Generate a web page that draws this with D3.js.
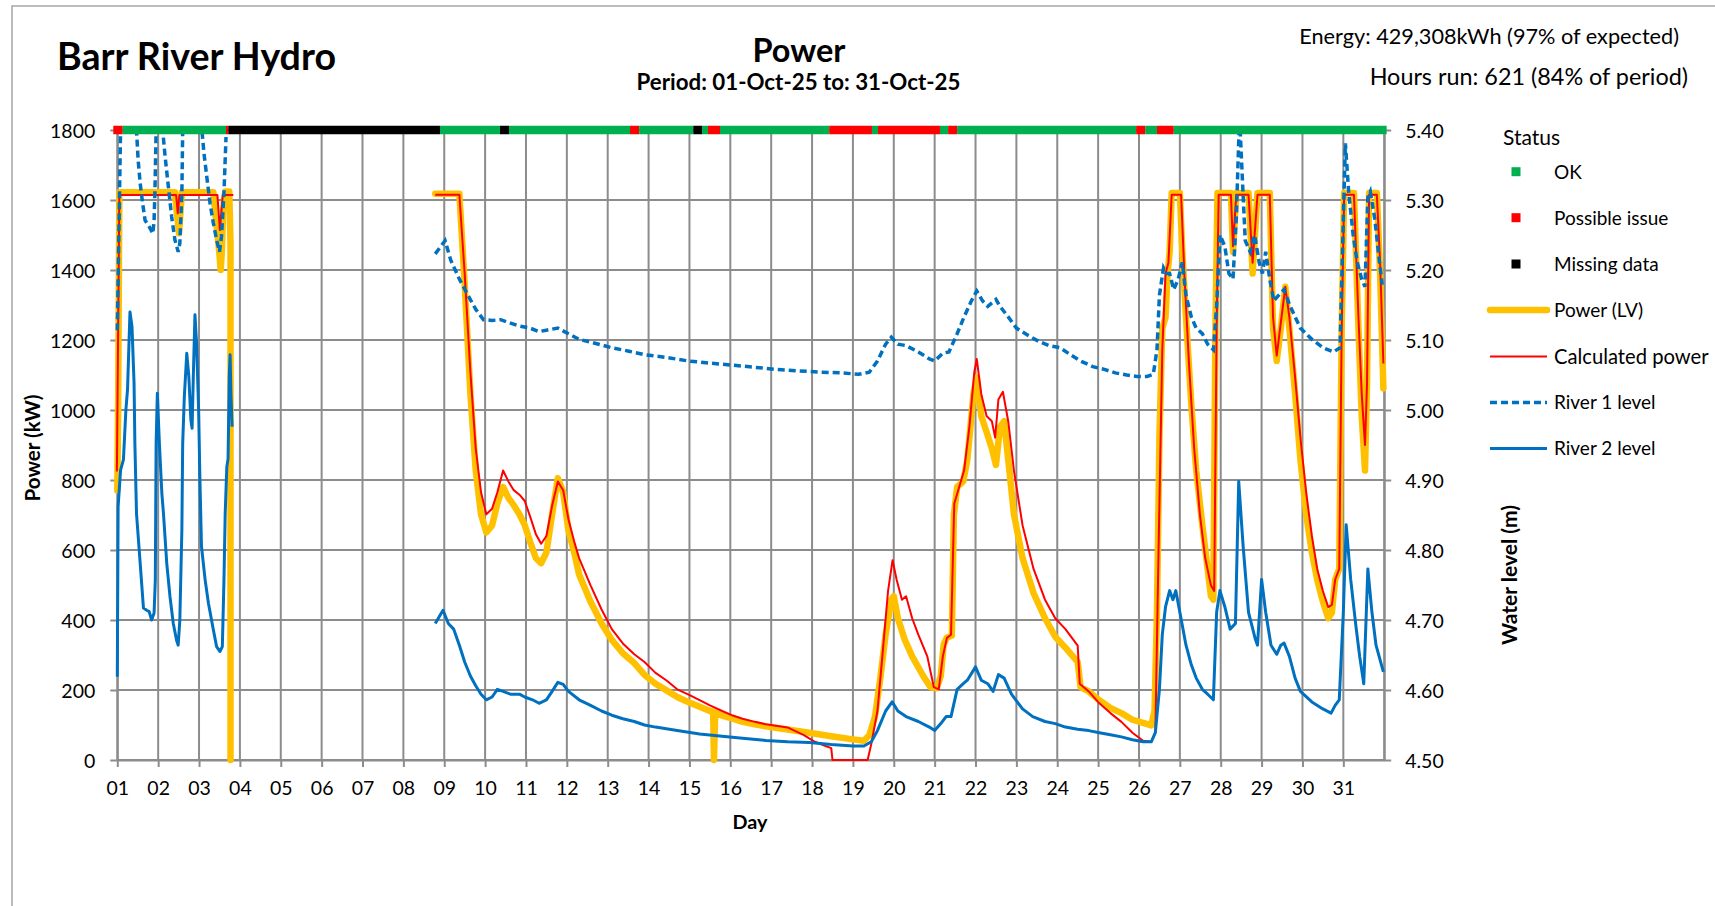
<!DOCTYPE html>
<html><head><meta charset="utf-8">
<script src="https://cdn.jsdelivr.net/npm/d3@7/dist/d3.min.js"></script>
<style>html,body{margin:0;padding:0;background:#fff;overflow:hidden}svg{display:block}</style>
</head><body>
<script>
// ---------------- DATA ----------------
const dayLabels = ["01","02","03","04","05","06","07","08","09","10","11","12","13","14","15","16","17","18","19","20","21","22","23","24","25","26","27","28","29","30","31"];
const powerTicks = [0,200,400,600,800,1000,1200,1400,1600,1800];
const levelTicks = [4.5,4.6,4.7,4.8,4.9,5.0,5.1,5.2,5.3,5.4];

// [day, kW]
const powerLV = [[1.00,770],[1.02,1000],[1.05,1622],[2.41,1622],[2.45,1571],[2.51,1505],[2.55,1571],[2.58,1622],[3.35,1622],[3.43,1524],[3.49,1457],[3.53,1400],[3.56,1457],[3.59,1571],[3.64,1624],[3.74,1624],[3.77,1477],[3.77,0],[5,null],
[8.78,1618],[9.37,1618],[9.5,1360],[9.64,1046],[9.77,827],[9.9,702],[10.03,650],[10.17,670],[10.3,733],[10.44,780],[10.57,749],[10.7,728],[10.84,702],[10.97,671],[11.1,624],[11.24,577],[11.37,562],[11.5,593],[11.64,702],[11.78,805],[11.91,765],[12.04,655],[12.18,593],[12.3,530],[12.58,452],[12.85,390],[13.1,343],[13.37,305],[13.65,277],[13.9,243],[14.17,218],[14.44,199],[14.7,180],[14.98,165],[15.25,152],[15.5,140],[15.58,138],[15.6,0],[15.63,135],[15.8,127],[16.06,118],[16.3,109],[16.6,102],[16.87,96],[17.4,87],[17.93,78],[18.47,68],[19.0,59],[19.27,55],[19.4,71],[19.54,124],[19.67,233],[19.8,358],[19.94,458],[20.0,468],[20.1,405],[20.27,343],[20.45,296],[20.72,240],[20.9,208],[21.05,205],[21.15,240],[21.22,330],[21.3,350],[21.42,355],[21.47,700],[21.55,780],[21.7,796],[21.8,858],[21.95,1046],[22.03,1093],[22.14,983],[22.27,937],[22.4,890],[22.5,843],[22.6,952],[22.7,968],[22.8,858],[22.94,702],[23.15,577],[23.42,477],[23.7,405],[23.95,352],[24.2,321],[24.5,280],[24.57,208],[24.77,196],[25.03,171],[25.3,149],[25.57,134],[25.84,115],[26.1,106],[26.3,99],[26.38,140],[26.44,421],[26.5,921],[26.57,1233],[26.65,1265],[26.7,1390],[26.75,1452],[26.8,1620],[27.0,1620],[27.06,1452],[27.15,1265],[27.28,1015],[27.4,827],[27.55,671],[27.68,546],[27.76,468],[27.82,458],[27.87,1233],[27.92,1620],[28.25,1620],[28.3,1452],[28.38,1620],[28.68,1620],[28.78,1390],[28.9,1620],[29.2,1620],[29.28,1233],[29.37,1140],[29.47,1233],[29.58,1352],[29.68,1233],[29.82,1046],[29.95,858],[30.09,702],[30.23,593],[30.36,515],[30.5,452],[30.63,405],[30.72,421],[30.8,515],[30.9,546],[30.96,1233],[31.02,1620],[31.26,1620],[31.37,1233],[31.45,983],[31.53,827],[31.58,1077],[31.63,1620],[31.82,1620],[31.9,1390],[31.98,1062]];

const calcPower = [[0.99,824],[1.05,1614],[2.44,1614],[2.48,1562],[2.52,1614],[3.45,1614],[3.51,1514],[3.58,1614],[3.84,1614],[5,null],
[8.78,1615],[9.37,1615],[9.5,1390],[9.64,1108],[9.77,890],[9.9,765],[10.03,702],[10.17,718],[10.3,765],[10.44,827],[10.57,796],[10.7,771],[10.84,758],[10.97,740],[11.1,696],[11.24,646],[11.37,618],[11.5,640],[11.64,727],[11.78,796],[11.91,771],[12.04,687],[12.18,624],[12.3,577],[12.58,499],[12.85,430],[13.1,374],[13.37,333],[13.65,302],[13.9,280],[14.17,249],[14.44,227],[14.7,202],[14.98,187],[15.25,171],[15.5,156],[15.8,140],[16.06,127],[16.3,118],[16.6,109],[16.87,102],[17.4,93],[17.8,71],[18.07,52],[18.33,40],[18.47,34],[18.5,0],[19.36,0],[19.45,46],[19.6,140],[19.72,296],[19.86,483],[19.97,571],[20.07,515],[20.2,458],[20.3,468],[20.45,405],[20.6,358],[20.82,296],[20.98,208],[21.1,202],[21.2,296],[21.3,349],[21.4,358],[21.48,733],[21.6,780],[21.72,827],[21.85,952],[21.97,1108],[22.03,1146],[22.14,1046],[22.27,983],[22.4,968],[22.48,921],[22.56,1030],[22.67,1052],[22.8,968],[22.94,827],[23.15,671],[23.42,546],[23.7,458],[23.95,405],[24.2,374],[24.5,327],[24.55,218],[24.77,196],[25.03,162],[25.3,134],[25.57,109],[25.84,78],[26.1,55],[26.3,52],[26.4,78],[26.48,608],[26.57,1171],[26.65,1390],[26.72,1421],[26.8,1615],[27.03,1615],[27.11,1390],[27.22,1140],[27.35,890],[27.49,702],[27.62,577],[27.76,499],[27.84,483],[27.9,1233],[27.95,1615],[28.25,1615],[28.3,1468],[28.38,1615],[28.68,1615],[28.78,1421],[28.9,1615],[29.2,1615],[29.28,1265],[29.37,1155],[29.47,1249],[29.58,1352],[29.68,1265],[29.82,1093],[29.95,921],[30.09,765],[30.23,640],[30.36,546],[30.5,483],[30.63,437],[30.72,443],[30.8,515],[30.9,546],[30.96,1233],[31.02,1615],[31.26,1615],[31.37,1265],[31.45,1046],[31.53,900],[31.58,1077],[31.63,1615],[31.82,1615],[31.9,1421],[31.98,1133]];

// [day, m]
const river1Level = [[1.00,5.114],[1.08,5.40],[1.12,5.5],[1.44,5.5],[1.47,5.40],[1.51,5.357],[1.56,5.324],[1.62,5.295],[1.68,5.271],[1.78,5.262],[1.87,5.252],[1.90,5.271],[1.92,5.31],[1.95,5.40],[1.98,5.5],[2.08,5.5],[2.11,5.40],[2.17,5.362],[2.25,5.319],[2.33,5.276],[2.41,5.243],[2.49,5.226],[2.53,5.238],[2.58,5.31],[2.6,5.40],[2.63,5.5],[3.04,5.5],[3.07,5.40],[3.12,5.367],[3.19,5.333],[3.27,5.295],[3.35,5.267],[3.43,5.243],[3.50,5.226],[3.55,5.248],[3.61,5.31],[3.66,5.39],[5,null],
[8.78,5.223],[8.92,5.234],[9.02,5.242],[9.16,5.214],[9.37,5.187],[9.58,5.164],[9.77,5.144],[9.96,5.129],[10.17,5.128],[10.38,5.129],[10.57,5.125],[10.84,5.12],[11.1,5.117],[11.32,5.112],[11.5,5.114],[11.78,5.117],[12.04,5.109],[12.3,5.101],[12.71,5.095],[13.1,5.089],[13.52,5.084],[13.9,5.079],[14.44,5.075],[14.98,5.07],[15.5,5.067],[16.06,5.064],[16.6,5.061],[17.13,5.058],[17.66,5.056],[18.2,5.054],[18.73,5.053],[19.14,5.051],[19.4,5.054],[19.6,5.07],[19.8,5.094],[19.94,5.104],[20.1,5.094],[20.3,5.092],[20.6,5.083],[20.87,5.073],[21.0,5.07],[21.2,5.081],[21.35,5.083],[21.55,5.109],[21.72,5.133],[21.9,5.156],[22.03,5.17],[22.17,5.156],[22.3,5.148],[22.5,5.158],[22.6,5.148],[22.8,5.133],[23.0,5.117],[23.3,5.106],[23.55,5.098],[23.8,5.092],[24.07,5.089],[24.35,5.078],[24.57,5.07],[24.87,5.062],[25.15,5.058],[25.42,5.053],[25.7,5.05],[25.95,5.048],[26.2,5.048],[26.35,5.051],[26.44,5.086],[26.5,5.164],[26.6,5.203],[26.67,5.195],[26.75,5.195],[26.85,5.172],[26.96,5.187],[27.06,5.211],[27.15,5.164],[27.28,5.133],[27.4,5.117],[27.55,5.109],[27.68,5.094],[27.82,5.086],[27.9,5.148],[27.98,5.25],[28.1,5.234],[28.2,5.195],[28.3,5.187],[28.38,5.273],[28.46,5.42],[28.55,5.304],[28.6,5.242],[28.72,5.226],[28.83,5.25],[28.94,5.211],[29.02,5.195],[29.1,5.226],[29.2,5.187],[29.3,5.156],[29.42,5.164],[29.55,5.172],[29.68,5.151],[29.82,5.133],[29.95,5.117],[30.23,5.101],[30.5,5.089],[30.76,5.083],[30.92,5.089],[31.0,5.273],[31.05,5.381],[31.13,5.312],[31.24,5.25],[31.34,5.211],[31.45,5.187],[31.53,5.176],[31.6,5.304],[31.66,5.312],[31.77,5.273],[31.87,5.219],[31.95,5.179]];

const river2Level = [[1.00,4.619],[1.02,4.862],[1.08,4.914],[1.15,4.929],[1.21,5.0],[1.25,5.029],[1.31,5.140],[1.36,5.119],[1.41,5.038],[1.43,4.952],[1.47,4.852],[1.56,4.781],[1.64,4.717],[1.72,4.714],[1.78,4.712],[1.84,4.70],[1.90,4.71],[1.93,4.757],[1.95,4.952],[1.98,5.024],[2.03,4.952],[2.09,4.881],[2.13,4.852],[2.21,4.781],[2.29,4.733],[2.37,4.695],[2.45,4.671],[2.49,4.664],[2.53,4.70],[2.58,4.829],[2.6,4.952],[2.64,5.019],[2.70,5.081],[2.75,5.048],[2.80,4.986],[2.83,4.974],[2.86,5.048],[2.90,5.136],[2.94,5.095],[2.99,5.0],[3.02,4.905],[3.06,4.805],[3.15,4.757],[3.23,4.724],[3.35,4.686],[3.43,4.662],[3.51,4.655],[3.57,4.662],[3.61,4.757],[3.64,4.852],[3.68,4.919],[3.71,4.93],[3.74,5.048],[3.76,5.079],[3.78,5.024],[3.81,4.976],[5,null],
[8.78,4.695],[8.97,4.714],[9.1,4.695],[9.23,4.687],[9.37,4.664],[9.5,4.64],[9.64,4.62],[9.77,4.606],[9.9,4.594],[10.03,4.586],[10.17,4.59],[10.3,4.601],[10.44,4.598],[10.62,4.594],[10.84,4.594],[10.97,4.59],[11.16,4.586],[11.32,4.581],[11.5,4.586],[11.64,4.598],[11.78,4.611],[11.91,4.608],[12.04,4.598],[12.3,4.586],[12.58,4.578],[12.85,4.57],[13.1,4.564],[13.37,4.559],[13.65,4.555],[13.9,4.55],[14.17,4.547],[14.7,4.542],[15.25,4.537],[15.8,4.534],[16.3,4.531],[16.87,4.528],[17.4,4.526],[17.93,4.525],[18.47,4.522],[19.0,4.52],[19.27,4.52],[19.45,4.526],[19.6,4.542],[19.8,4.57],[19.96,4.583],[20.1,4.57],[20.3,4.562],[20.6,4.555],[20.87,4.547],[21.0,4.542],[21.15,4.552],[21.28,4.562],[21.4,4.562],[21.55,4.601],[21.7,4.609],[21.8,4.614],[22.0,4.633],[22.14,4.614],[22.3,4.609],[22.43,4.598],[22.56,4.622],[22.7,4.617],[22.88,4.594],[23.15,4.573],[23.4,4.562],[23.7,4.555],[23.95,4.552],[24.2,4.547],[24.5,4.544],[24.77,4.542],[25.03,4.539],[25.3,4.536],[25.57,4.533],[25.84,4.529],[26.1,4.526],[26.3,4.526],[26.4,4.539],[26.5,4.601],[26.57,4.679],[26.65,4.719],[26.75,4.742],[26.83,4.729],[26.9,4.742],[27.0,4.711],[27.15,4.664],[27.28,4.636],[27.4,4.617],[27.55,4.601],[27.68,4.594],[27.82,4.586],[27.9,4.711],[27.98,4.742],[28.1,4.719],[28.23,4.687],[28.36,4.695],[28.44,4.898],[28.55,4.804],[28.68,4.711],[28.85,4.672],[28.9,4.664],[29.0,4.758],[29.1,4.711],[29.23,4.664],[29.37,4.651],[29.47,4.664],[29.55,4.667],[29.68,4.648],[29.82,4.617],[29.95,4.598],[30.23,4.583],[30.5,4.573],[30.7,4.567],[30.8,4.578],[30.9,4.586],[31.0,4.711],[31.07,4.836],[31.18,4.758],[31.3,4.695],[31.4,4.648],[31.5,4.609],[31.6,4.773],[31.7,4.711],[31.8,4.664],[31.98,4.626]];

const statusStart = [0.902,1.132,3.66,3.716,8.896,10.364,10.584,13.545,13.77,15.094,15.307,15.453,15.747,18.42,19.466,19.613,21.13,21.33,21.55,25.93,26.153,26.44,26.85];
const statusEnd   = [1.132,3.66,3.716,8.896,10.364,10.584,13.545,13.77,15.094,15.307,15.453,15.747,18.42,19.466,19.613,21.13,21.33,21.55,25.93,26.153,26.44,26.85,32.06];
const statusCode  = ["issue","ok","issue","missing","ok","missing","ok","issue","ok","missing","ok","issue","ok","issue","ok","issue","ok","issue","ok","issue","ok","issue","ok"];

const statusNames = ["OK","Possible issue","Missing data"];
const statusKeys = ["ok","issue","missing"];
const seriesNames = ["Power (LV)","Calculated power","River 1 level","River 2 level"];

// ---------------- LAYOUT ----------------
const W = 1715, H = 906;
const FONT = "Lato, 'Open Sans', sans-serif";
const plot = {left:117.3, right:1384.2, top:130, bottom:760};
const statusColor = {ok:"#00B050", issue:"#FF0000", missing:"#000000"};
const gridColor = "#8c8c8c";

const svg = d3.select("body").append("svg").attr("width", W).attr("height", H);

const x = d3.scaleLinear().domain([1, 32]).range([plot.left, plot.right]);
const yP = d3.scaleLinear().domain([0, 1800]).range([plot.bottom, plot.top]);
const yL = d3.scaleLinear().domain([4.5, 5.4]).range([plot.bottom, plot.top]);

// outer frame
svg.append("rect").attr("x", 12).attr("y", 6).attr("width", W + 20).attr("height", H + 20)
  .attr("fill", "none").attr("stroke", "#a6a6a6").attr("stroke-width", 1.5);

function fit(sel, w) {
  const cur = sel.node().getComputedTextLength();
  const fs = parseFloat(sel.attr("font-size"));
  sel.attr("font-size", (fs * w / cur).toFixed(2));
  return sel;
}

// titles
fit(svg.append("text").attr("x", 57).attr("y", 70).attr("font-family", FONT).attr("font-weight", 700)
  .attr("font-size", 36).attr("fill", "#000").text("Barr River Hydro"), 279);
fit(svg.append("text").attr("x", 799).attr("y", 62).attr("text-anchor", "middle").attr("font-family", FONT)
  .attr("font-weight", 700).attr("font-size", 30).attr("fill", "#000").text("Power"), 93);
fit(svg.append("text").attr("x", 798.5).attr("y", 89.5).attr("text-anchor", "middle").attr("font-family", FONT)
  .attr("font-weight", 700).attr("font-size", 20).attr("fill", "#000").text("Period: 01-Oct-25 to: 31-Oct-25"), 324);
fit(svg.append("text").attr("x", 1679).attr("y", 44).attr("text-anchor", "end").attr("font-family", FONT)
  .attr("font-size", 22).attr("fill", "#000").text("Energy: 429,308kWh (97% of expected)"), 380);
fit(svg.append("text").attr("x", 1688).attr("y", 84.5).attr("text-anchor", "end").attr("font-family", FONT)
  .attr("font-size", 22).attr("fill", "#000").text("Hours run: 621 (84% of period)"), 318.6);

// gridlines
const grid = svg.append("g");
grid.selectAll("line.h").data(powerTicks).join("line").attr("class", "h")
  .attr("x1", plot.left).attr("x2", plot.right).attr("y1", d => yP(d)).attr("y2", d => yP(d))
  .attr("stroke", gridColor).attr("stroke-width", 2);
grid.selectAll("line.v").data(d3.range(1, 33)).join("line").attr("class", "v")
  .attr("x1", d => x(d)).attr("x2", d => x(d)).attr("y1", plot.top).attr("y2", plot.bottom)
  .attr("stroke", gridColor).attr("stroke-width", 2);

// axes
function styleAxis(g) {
  g.selectAll("path.domain").attr("stroke", gridColor).attr("stroke-width", 2);
  g.selectAll(".tick line").attr("stroke", gridColor).attr("stroke-width", 2);
  g.selectAll("text").attr("font-family", FONT).attr("font-size", 19.5).attr("fill", "#000");
}
const axL = svg.append("g").attr("transform", `translate(${plot.left},0)`)
  .call(d3.axisLeft(yP).tickValues(powerTicks).tickSize(7).tickSizeOuter(0).tickPadding(15).tickFormat(d3.format("d")));
styleAxis(axL); axL.selectAll("text").attr("dy", "0.36em");
const axR = svg.append("g").attr("transform", `translate(${plot.right},0)`)
  .call(d3.axisRight(yL).tickValues(levelTicks).tickSize(7).tickSizeOuter(0).tickPadding(14).tickFormat(d3.format(".2f")));
styleAxis(axR); axR.selectAll("text").attr("dy", "0.36em");
const axB = svg.append("g").attr("transform", `translate(0,${plot.bottom})`)
  .call(d3.axisBottom(x).tickValues(d3.range(1, 32)).tickSize(7).tickSizeOuter(0).tickFormat((d, i) => dayLabels[i]));
styleAxis(axB); axB.selectAll("text").attr("y", 27.5).attr("dy", "0.36em");

// axis titles
fit(svg.append("text").attr("transform", "translate(40,448) rotate(-90)").attr("text-anchor", "middle")
  .attr("font-family", FONT).attr("font-weight", 700).attr("font-size", 18).text("Power (kW)"), 107);
fit(svg.append("text").attr("transform", "translate(1516.5,575) rotate(-90)").attr("text-anchor", "middle")
  .attr("font-family", FONT).attr("font-weight", 700).attr("font-size", 18).text("Water level (m)"), 140);
fit(svg.append("text").attr("x", 750).attr("y", 828.5).attr("text-anchor", "middle")
  .attr("font-family", FONT).attr("font-weight", 700).attr("font-size", 18).text("Day"), 35);

// clip
svg.append("clipPath").attr("id", "clip").append("rect")
  .attr("x", plot.left - 10).attr("y", plot.top).attr("width", plot.right - plot.left + 20).attr("height", plot.bottom - plot.top + 10);

const lineP = d3.line().defined(d => d[1] !== null).x(d => x(d[0])).y(d => yP(d[1]));
const lineL = d3.line().defined(d => d[1] !== null).x(d => x(d[0])).y(d => yL(d[1]));
const series = svg.append("g").attr("clip-path", "url(#clip)");

series.append("path").datum(powerLV).attr("d", lineP).attr("fill", "none")
  .attr("stroke", "#FFC000").attr("stroke-width", 6.5).attr("stroke-linejoin", "round").attr("stroke-linecap", "round");
series.append("path").datum(calcPower).attr("d", lineP).attr("fill", "none")
  .attr("stroke", "#FF0000").attr("stroke-width", 2).attr("stroke-linejoin", "round");
series.append("path").datum(river1Level).attr("d", lineL).attr("fill", "none")
  .attr("stroke", "#0070C0").attr("stroke-width", 3.5).attr("stroke-dasharray", "7,4");
series.append("path").datum(river2Level).attr("d", lineL).attr("fill", "none")
  .attr("stroke", "#0070C0").attr("stroke-width", 3).attr("stroke-linejoin", "round");

// status bar
svg.append("g").selectAll("line").data(statusStart).join("line")
  .attr("x1", (d) => x(d)).attr("x2", (d, i) => x(statusEnd[i]))
  .attr("y1", yP(1800)).attr("y2", yP(1800))
  .attr("stroke", (d, i) => statusColor[statusCode[i]]).attr("stroke-width", 8.5);

// legend
const lg = svg.append("g");
const legFS = 19;
lg.append("text").attr("x", 1503).attr("y", 144.5).attr("font-family", FONT).attr("font-size", 21).text("Status");
const rowY = [171.7, 217.7, 264, 310, 356.5, 402.5, 448.5];
statusKeys.forEach((k, i) => {
  lg.append("rect").attr("x", 1511.5).attr("y", rowY[i] - 4.5).attr("width", 9).attr("height", 9).attr("fill", statusColor[k]);
  lg.append("text").attr("x", 1554).attr("y", rowY[i]).attr("dy", "0.36em").attr("font-family", FONT).attr("font-size", legFS).text(statusNames[i]);
});
const legStyles = [
  {c:"#FFC000", w:6.5, dash:null, cap:"round"},
  {c:"#FF0000", w:2, dash:null, cap:"butt"},
  {c:"#0070C0", w:3.5, dash:"7,4", cap:"butt"},
  {c:"#0070C0", w:3, dash:null, cap:"butt"}];
seriesNames.forEach((n, j) => {
  const yy = rowY[3 + j], s = legStyles[j];
  lg.append("line").attr("x1", 1490).attr("x2", 1547).attr("y1", yy).attr("y2", yy)
    .attr("stroke", s.c).attr("stroke-width", s.w).attr("stroke-dasharray", s.dash).attr("stroke-linecap", s.cap);
  const t = lg.append("text").attr("x", 1554).attr("y", yy).attr("dy", "0.36em").attr("font-family", FONT).attr("font-size", legFS).text(n);
  if (j === 1) fit(t, 154.5);
});
</script>
</body></html>
